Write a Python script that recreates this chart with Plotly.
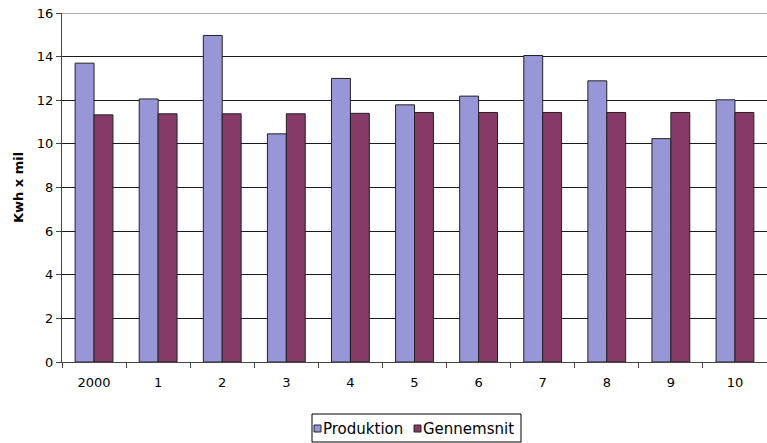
import plotly.graph_objects as go

categories = ["2000", "1", "2", "3", "4", "5", "6", "7", "8", "9", "10"]
produktion = [13.7, 12.06, 14.97, 10.46, 13.0, 11.79, 12.19, 14.05, 12.89, 10.24, 12.02]
gennemsnit = [11.33, 11.38, 11.38, 11.38, 11.4, 11.44, 11.44, 11.44, 11.44, 11.44, 11.44]
y_ticks = [0, 2, 4, 6, 8, 10, 12, 14, 16]
series_names = ["Produktion", "Gennemsnit"]
series_colors = ["#9797D8", "#853A68"]

fig = go.Figure()
for name, vals, col in zip(series_names, [produktion, gennemsnit], series_colors):
    fig.add_trace(go.Bar(name=name, x=categories, y=vals, showlegend=False,
                         marker=dict(color=col, line=dict(color="#222222", width=1))))

W, H = 767, 443
L, R, T, B = 62, 0, 13, 81
pw, ph = W - L - R, H - T - B


def px(x):
    return (x - L) / pw


def py(y):
    return (H - B - y) / ph


fig.update_layout(
    width=W, height=H,
    margin=dict(l=L, r=R, t=T, b=B, autoexpand=False),
    paper_bgcolor="white", plot_bgcolor="white",
    barmode="group", bargap=0.41, bargroupgap=0,
    font=dict(family="DejaVu Sans", size=13, color="#000000"),
    showlegend=False,
    xaxis=dict(type="category", showline=True, linecolor="#444444", linewidth=1,
               ticks="outside", tickson="boundaries", ticklen=5, tickcolor="#444444",
               showgrid=False, tickfont=dict(size=13), ticklabelstandoff=8),
    yaxis=dict(range=[0, 16], tickvals=y_ticks, showline=True, linecolor="#444444",
               linewidth=1, ticks="outside", ticklen=5, tickcolor="#444444",
               showgrid=True, gridcolor="#1a1a1a", gridwidth=1, zeroline=False,
               tickfont=dict(size=13),
               title=dict(text="<b>Kwh x mil</b>", font=dict(size=13), standoff=10)),
)
fig.add_shape(type="line", xref="paper", yref="y", x0=0, x1=1, y0=16, y1=16,
              line=dict(color="#999999", width=1.5))

# legend box (drawn manually to match the compact original layout)
fig.add_shape(type="rect", xref="paper", yref="paper",
              x0=px(312), x1=px(521), y0=py(414), y1=py(442),
              line=dict(color="#000000", width=1), fillcolor="white")
sym_x = [314, 414]
txt_x = [321, 421]
for name, col, sx, tx in zip(series_names, series_colors, sym_x, txt_x):
    fig.add_shape(type="rect", xref="paper", yref="paper",
                  x0=px(sx), x1=px(sx + 7), y0=py(425), y1=py(432),
                  line=dict(color="#222222", width=1), fillcolor=col)
    fig.add_annotation(xref="paper", yref="paper", x=px(tx), y=py(428.5),
                       xanchor="left", yanchor="middle", text=name, showarrow=False,
                       font=dict(size=15, family="DejaVu Sans", color="#000000"))

fig.write_html("out.html", config={"displayModeBar": False},
               post_script="document.body.style.margin='0';")
